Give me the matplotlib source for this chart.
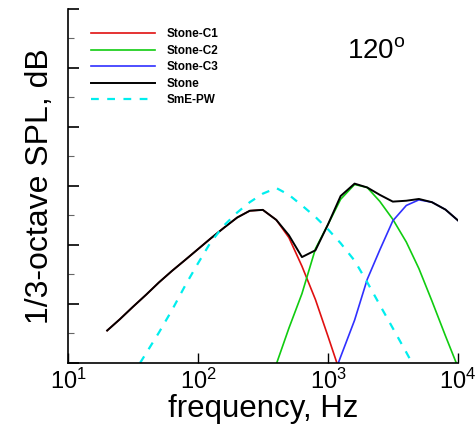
import numpy as np
import matplotlib
matplotlib.use("Agg")
import matplotlib.pyplot as plt

plt.rcParams["font.family"] = ["Liberation Sans", "DejaVu Sans"]
plt.rcParams["mathtext.fontset"] = "custom"
plt.rcParams["mathtext.rm"] = "Liberation Sans"
plt.rcParams["mathtext.it"] = "Liberation Sans:italic"

# 1/3-octave band centres, Hz
bands = [20, 25, 31.5, 40, 50, 63, 80, 100, 125, 160, 200, 250, 315, 400,
         500, 630, 800, 1000, 1250, 1600, 2000, 2500, 3150, 4000, 5000,
         6300, 8000, 10000]

# total (Stone)
stone = [11.0, 14.8, 19.0, 23.2, 27.3, 31.2, 35.0, 38.6, 42.2, 46.0, 49.3,
         51.6, 51.9, 48.5, 43.3, 35.9, 38.2, 47.0, 56.6, 60.8, 59.5, 57.0,
         54.7, 55.0, 55.6, 54.5, 52.0, 48.3]

# component 1 (hidden under total at low frequency)
c1_freq = [20, 25, 31.5, 40, 50, 63, 80, 100, 125, 160, 200, 250, 315, 400,
           500, 630, 800, 1000, 1170]
c1_spl = [11.0, 14.8, 19.0, 23.2, 27.3, 31.2, 35.0, 38.6, 42.2, 46.0, 49.3,
          51.6, 51.9, 48.5, 42.5, 32.8, 21.5, 9.0, 0.0]

# component 2
c2_freq = [403, 500, 630, 800, 1000, 1250, 1600, 2000, 2500, 3150, 4000,
           5000, 6300, 8000, 10000]
c2_spl = [0.0, 11.8, 23.5, 38.7, 47.0, 55.5, 60.5, 59.5, 54.8, 48.7, 41.0,
          32.0, 21.0, 9.2, -1.5]

# component 3
c3_freq = [1200, 1250, 1600, 2000, 2500, 3150, 4000, 5000, 6300, 8000, 10000]
c3_spl = [0.0, 2.1, 14.5, 28.3, 38.3, 48.2, 53.4, 55.3, 54.5, 52.0, 48.3]

# SmE-PW prediction
pw_freq = [35.8, 40, 50, 63, 80, 100, 125, 160, 200, 250, 315, 400, 500,
           630, 800, 1000, 1250, 1600, 2000, 2500, 3150, 4000, 4430]
pw_spl = [0.0, 3.4, 10.3, 17.9, 26.4, 33.8, 40.9, 46.8, 51.0, 54.5, 57.4,
          59.3, 57.0, 53.4, 49.5, 45.3, 40.6, 34.7, 27.4, 19.7, 11.8, 3.6,
          0.0]

fig = plt.figure(figsize=(4.75, 4.25), dpi=100)
ax = fig.add_axes([0.1432, 0.1459, 0.8211, 0.833])

ax.plot(c1_freq, c1_spl, color="#e01010", lw=1.2, label="Stone-C1")
ax.plot(c2_freq, c2_spl, color="#10cc10", lw=1.2, label="Stone-C2")
ax.plot(c3_freq, c3_spl, color="#3030ff", lw=1.2, label="Stone-C3")
ax.plot(bands, stone, color="black", lw=1.4, label="Stone")
ax.plot(pw_freq, pw_spl, color="#00eeee", lw=1.6, ls=(0, (3.5, 3.8)),
        label="SmE-PW")

ax.set_xscale("log")
ax.set_xlim(10, 10000)
ax.set_ylim(0, 120)
ax.set_xticks([10, 100, 1000, 10000])
ax.xaxis.set_minor_locator(matplotlib.ticker.NullLocator())
ax.set_yticks(np.arange(0, 121, 20))
ax.set_yticks(np.arange(0, 121, 10), minor=True)
ax.set_yticklabels([])
ax.tick_params(axis="x", which="major", direction="in", length=7, width=1,
               labelsize=17, pad=4)
ax.tick_params(axis="y", which="major", direction="in", length=8, width=1.2)
ax.tick_params(axis="y", which="minor", direction="in", length=4, width=0.8,
               color="0.4")
for s in ("top", "right"):
    ax.spines[s].set_visible(False)
for s in ("left", "bottom"):
    ax.spines[s].set_linewidth(1.2)

ax.set_xlabel("frequency, Hz", fontsize=22.5, labelpad=0)
ax.set_ylabel("1/3-octave SPL, dB", fontsize=23, labelpad=6)

ax.text(0.715, 0.862, "120$^{\\rm o}$", transform=ax.transAxes, fontsize=20)

leg = ax.legend(loc="upper left", bbox_to_anchor=(0.06, 0.945), frameon=False,
                prop={"size": 8.5, "weight": "bold"}, handlelength=5.4,
                handletextpad=0.95, labelspacing=0.38, borderpad=0,
                borderaxespad=0)

fig.savefig("out.png", dpi=100)
